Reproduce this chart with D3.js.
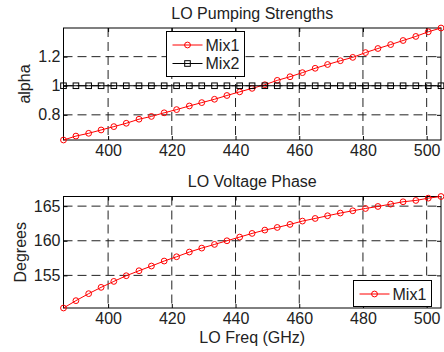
<!DOCTYPE html>
<html>
<head>
<meta charset="utf-8">
<script src="https://cdn.jsdelivr.net/npm/d3@7"></script>
<style>
  body { margin: 0; background: #fff; }
  svg { display: block; font-family: "Liberation Sans", Arial, sans-serif; }
</style>
</head>
<body>
<svg id="chart" width="444" height="352"></svg>
<script>
// LO frequency (GHz)
var freq = [386.0, 389.9, 393.9, 397.8, 401.8, 405.7, 409.7, 413.6, 417.6, 421.5,
	425.5, 429.4, 433.4, 437.3, 441.3, 445.2, 449.2, 453.1, 457.1, 461.0,
	465.0, 468.9, 472.9, 476.8, 480.8, 484.7, 488.7, 492.6, 496.6, 500.5, 504.5];

// pumping strength
var alphaMix1 = [0.627, 0.654, 0.673, 0.696, 0.719, 0.742, 0.770, 0.789, 0.814, 0.836,
	0.861, 0.884, 0.907, 0.933, 0.958, 0.982, 1.007, 1.037, 1.062, 1.090,
	1.120, 1.146, 1.172, 1.195, 1.228, 1.256, 1.283, 1.311, 1.339, 1.371, 1.397];
var alphaMix2 = [1, 1, 1, 1, 1, 1, 1, 1, 1, 1, 1, 1, 1, 1, 1, 1, 1, 1, 1, 1,
	1, 1, 1, 1, 1, 1, 1, 1, 1, 1, 1];

// voltage phase (deg)
var phaseMix1 = [150.29, 151.35, 152.36, 153.27, 154.13, 154.95, 155.67, 156.35, 157.07, 157.69,
	158.37, 158.94, 159.47, 160.00, 160.53, 161.06, 161.54, 161.92, 162.36, 162.84,
	163.22, 163.61, 164.00, 164.33, 164.66, 164.95, 165.29, 165.63, 165.82, 166.15, 166.39];

var xTicks = [400, 420, 440, 460, 480, 500];
var alphaTicks = [0.8, 1, 1.2];
var phaseTicks = [155, 160, 165];

var svg = d3.select('#chart'),
	left = 63.5, right = 441,
	fontSize = 16;

var x = d3.scaleLinear().domain(d3.extent(freq)).range([left, right]);

function panel(top, bottom, title, ylabel, ydom, yticks, series, legend) {
	var y = d3.scaleLinear().domain(ydom).range([bottom, top]),
		h = bottom - top, w = right - left,
		g = svg.append('g');

	// grid
	g.append('g').selectAll('line').data(xTicks).enter().append('line')
		.attr('x1', function (d) { return x(d); }).attr('x2', function (d) { return x(d); })
		.attr('y1', top).attr('y2', bottom);
	g.append('g').selectAll('line').data(yticks).enter().append('line')
		.attr('x1', left).attr('x2', right)
		.attr('y1', function (d) { return y(d); }).attr('y2', function (d) { return y(d); });
	g.selectAll('line').attr('stroke', '#222').attr('stroke-width', 1).attr('stroke-dasharray', '9,5');

	// axes, ticks inside
	var fmt = function (d) { return d3.format('~g')(d); };
	g.append('g').attr('transform', 'translate(0,' + bottom + ')')
		.call(d3.axisBottom(x).tickValues(xTicks).tickSize(-4).tickPadding(5).tickFormat(fmt));
	g.append('g').attr('transform', 'translate(0,' + top + ')')
		.call(d3.axisTop(x).tickValues(xTicks).tickSize(-4).tickFormat(''));
	g.append('g').attr('transform', 'translate(' + left + ',0)')
		.call(d3.axisLeft(y).tickValues(yticks).tickSize(-4).tickPadding(3).tickFormat(fmt));
	g.append('g').attr('transform', 'translate(' + right + ',0)')
		.call(d3.axisRight(y).tickValues(yticks).tickSize(-4).tickFormat(''));
	g.selectAll('.domain').remove();
	g.selectAll('.tick line').attr('stroke', '#000');
	g.selectAll('.tick text').attr('font-size', fontSize).attr('fill', '#222')
		.attr('font-family', '"Liberation Sans", Arial, sans-serif');

	g.append('rect').attr('x', left).attr('y', top).attr('width', w).attr('height', h)
		.attr('fill', 'none').attr('stroke', '#000').attr('stroke-width', 1);

	// series
	series.forEach(function (s) {
		var line = d3.line().x(function (d, i) { return x(freq[i]); }).y(function (d) { return y(d); });
		var sg = g.append('g');
		sg.append('path').datum(s.values).attr('d', line)
			.attr('fill', 'none').attr('stroke', s.color).attr('stroke-width', 1);
		drawMarkers(sg, s, s.values.map(function (d, i) { return [x(freq[i]), y(d)]; }));
	});

	// labels
	svg.append('text').attr('x', (left + right) / 2).attr('y', top - 9.5)
		.attr('text-anchor', 'middle').attr('font-size', fontSize).attr('fill', '#222').text(title);
	svg.append('text').attr('transform', 'translate(' + (ylabel.x) + ',' + ((top + bottom) / 2) + ') rotate(-90)')
		.attr('text-anchor', 'middle').attr('font-size', fontSize).attr('fill', '#222').text(ylabel.text);

	// legend
	var lg = svg.append('g');
	lg.append('rect').attr('x', legend.x).attr('y', legend.y).attr('width', legend.w).attr('height', legend.h)
		.attr('fill', '#fff').attr('stroke', '#000').attr('stroke-width', 1);
	series.forEach(function (s, i) {
		var cy = legend.y + 13.5 + i * 18.5;
		lg.append('line').attr('x1', legend.x + 6).attr('x2', legend.x + 36).attr('y1', cy).attr('y2', cy)
			.attr('stroke', s.color).attr('stroke-width', 1);
		drawMarkers(lg, s, [[legend.x + 21, cy]]);
		lg.append('text').attr('x', legend.x + 39).attr('y', cy + 5.5).attr('font-size', fontSize)
			.attr('fill', '#222').text(s.name);
	});
}

function drawMarkers(g, s, pts) {
	if (s.marker == 'o') {
		g.selectAll(null).data(pts).enter().append('circle')
			.attr('cx', function (d) { return d[0]; }).attr('cy', function (d) { return d[1]; })
			.attr('r', 2.9).attr('fill', 'none').attr('stroke', s.color).attr('stroke-width', 1);
	} else {
		g.selectAll(null).data(pts).enter().append('rect')
			.attr('x', function (d) { return d[0] - 2.8; }).attr('y', function (d) { return d[1] - 2.8; })
			.attr('width', 5.6).attr('height', 5.6).attr('fill', 'none').attr('stroke', s.color).attr('stroke-width', 1);
	}
}

panel(28, 140, 'LO Pumping Strengths', {x: 30, text: 'alpha'},
	d3.extent(alphaMix1), alphaTicks,
	[{name: 'Mix1', values: alphaMix1, color: '#ff0000', marker: 'o'},
	 {name: 'Mix2', values: alphaMix2, color: '#000', marker: 's'}],
	{x: 166.5, y: 31.5, w: 78, h: 45});

panel(196.5, 308, 'LO Voltage Phase', {x: 25.5, text: 'Degrees'},
	d3.extent(phaseMix1), phaseTicks,
	[{name: 'Mix1', values: phaseMix1, color: '#ff0000', marker: 'o'}],
	{x: 353.5, y: 280.5, w: 78, h: 26});

svg.append('text').attr('x', (left + right) / 2).attr('y', 343)
	.attr('text-anchor', 'middle').attr('font-size', fontSize).attr('fill', '#222').text('LO Freq (GHz)');
</script>
</body>
</html>
